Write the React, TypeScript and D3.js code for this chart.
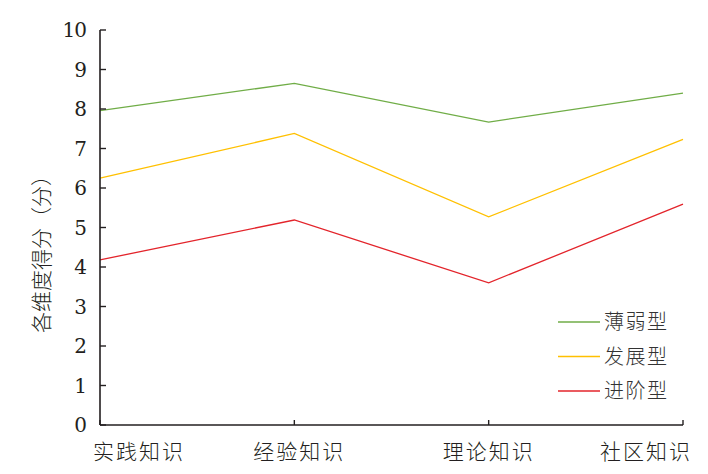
import React from "react";
import * as d3 from "d3";

const categories = ["实践知识", "经验知识", "理论知识", "社区知识"];
const seriesNames = ["薄弱型", "发展型", "进阶型"];
const weakValues = [7.96, 8.65, 7.67, 8.4];
const developingValues = [6.25, 7.38, 5.27, 7.23];
const advancedValues = [4.18, 5.19, 3.6, 5.59];
const yTicks = [0, 1, 2, 3, 4, 5, 6, 7, 8, 9, 10];
const colors = ["#70AD47", "#FFC000", "#E3242B"];

const W = 708;
const H = 474;
const left = 100;
const right = 683;
const top = 30;
const bottom = 425;

export default function App() {
  const x = d3.scalePoint<string>().domain(categories).range([left, right]);
  const y = d3.scaleLinear().domain([0, 10]).range([bottom, top]);
  const line = d3
    .line<number>()
    .x((_, i) => x(categories[i]) as number)
    .y((d) => y(d));
  const series = [weakValues, developingValues, advancedValues];
  const serif = "'DejaVu Serif', serif";
  const cjk = "'Noto Sans CJK SC', sans-serif";
  const axisColor = "#231f20";

  return (
    <svg
      width={W}
      height={H}
      style={{ position: "absolute", left: 0, top: 0, background: "#fff" }}
    >
      <rect x={0} y={0} width={W} height={H} fill="#fff" />
      {series.map((s, i) => (
        <path key={i} d={line(s) || ""} fill="none" stroke={colors[i]} strokeWidth={1.3} />
      ))}
      <line x1={left} x2={left} y1={top} y2={bottom} stroke={axisColor} strokeWidth={1.6} />
      {yTicks.map((t) => (
        <g key={t}>
          <line x1={left} x2={left + 6} y1={y(t)} y2={y(t)} stroke={axisColor} strokeWidth={1.4} />
          <text
            x={left - 14}
            y={y(t)}
            dy="0.35em"
            textAnchor="end"
            style={{ fontFamily: serif, fontSize: 20, letterSpacing: -1 }}
            fill="#231f20"
          >
            {t}
          </text>
        </g>
      ))}
      <line x1={left} x2={right} y1={bottom} y2={bottom} stroke={axisColor} strokeWidth={1.6} />
      {categories.map((c, i) => {
        const cx = x(c) as number;
        const anchor = i === 0 ? "start" : i === categories.length - 1 ? "end" : "middle";
        const tx = i === 0 ? cx - 7 : i === categories.length - 1 ? cx + 9 : cx + (i === 1 ? 5 : 0);
        return (
          <g key={c}>
            <line x1={cx} x2={cx} y1={bottom} y2={bottom - 5} stroke={axisColor} strokeWidth={1.4} />
            <text
              x={tx}
              y={452}
              dy="0.35em"
              textAnchor={anchor}
              style={{ fontFamily: cjk, fontSize: 21, letterSpacing: 2, fontWeight: 300 }}
              fill="#231f20"
            >
              {c}
            </text>
          </g>
        );
      })}
      <text
        transform={`translate(42, 249) rotate(-90)`}
        textAnchor="middle"
        dy="0.35em"
        style={{ fontFamily: cjk, fontSize: 21, fontWeight: 300 }}
        fill="#231f20"
      >
        各维度得分（分）
      </text>
      {seriesNames.map((n, i) => {
        const ly = 322 + i * 34.5;
        return (
          <g key={n}>
            <line x1={558} x2={600} y1={ly} y2={ly} stroke={colors[i]} strokeWidth={1.3} />
            <text
              x={604}
              y={ly}
              dy="0.35em"
              style={{ fontFamily: cjk, fontSize: 20, letterSpacing: 1.5, fontWeight: 300 }}
              fill="#333"
            >
              {n}
            </text>
          </g>
        );
      })}
    </svg>
  );
}
